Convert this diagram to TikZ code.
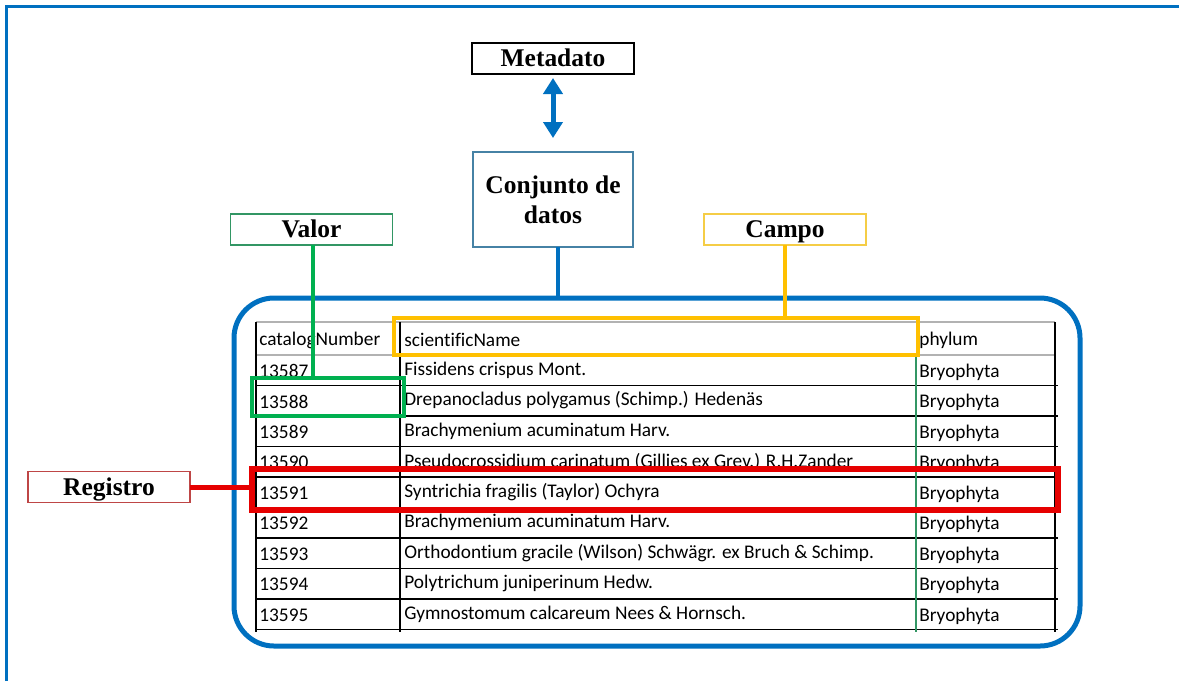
\documentclass[tikz,border=0pt]{standalone}
\usepackage{fontspec}
\setmainfont{Liberation Serif}
\newfontfamily\hojafont[Ligatures=NoCommon]{Carlito}
\usetikzlibrary{positioning,arrows.meta}
\definecolor{azul}{RGB}{0,112,192}
\definecolor{azulgris}{RGB}{70,130,165}
\definecolor{verde}{RGB}{0,176,80}
\definecolor{verdegris}{RGB}{50,150,100}
\definecolor{oro}{RGB}{255,192,0}
\definecolor{oroclaro}{RGB}{245,205,70}
\definecolor{rojo}{RGB}{230,0,0}
\definecolor{rojogris}{RGB}{190,70,70}
\def\px{0.02cm}
\tikzset{
  etiqueta/.style={draw, line width=1.5*\px, fill=white, inner sep=0pt, outer sep=0pt,
    font=\fontsize{14.5}{17}\selectfont\bfseries, align=center,
    minimum width=162*\px, minimum height=31*\px},
  simple/.style={text height=11pt, text depth=1.5pt},
  marca/.style={draw, inner sep=0pt, outer sep=0pt},
  celda/.style={font=\hojafont\fontsize{11}{13}\selectfont, anchor=west, inner sep=0pt},
  conector/.style={line width=4*\px},
}
\begin{document}
\begin{tikzpicture}[x=\px,y=-\px]
\useasboundingbox (0,0) rectangle (1179,681);
\draw[azul, line width=3*\px] (6,681) -- (6,6) -- (1179,6);

% hoja de calculo
\draw[gray!60, line width=1.2*\px] (256,322) -- (1055,322) (256,355) -- (1055,355);
\foreach \k in {1,...,9}
  \draw[black, line width=1.3*\px] (256,{355+30.5*\k}) -- (1058,{355+30.5*\k});
\draw[black, line width=1.3*\px] (256,322) -- (256,632);
\draw[black, line width=1.3*\px] (400,322) -- (400,632);
\draw[black, line width=1.3*\px] (1055,322) -- (1055,632);
\draw[verdegris, line width=1.5*\px] (916,355) -- (916,632);

\node[celda] (hcat) at (259,340) {catalogNumber};
\node[celda] (hsci) at (404,340) {scientificName};
\node[celda] (hphy) at (919,340) {phylum};

\foreach \num/\nombre [count=\i from 0] in {
  13587/{Fissidens crispus Mont.},
  13588/{Drepanocladus polygamus (Schimp.) Hedenäs},
  13589/{Brachymenium acuminatum Harv.},
  13590/{Pseudocrossidium carinatum (Gillies ex Grev.) R.H.Zander},
  13591/{Syntrichia fragilis (Taylor) Ochyra},
  13592/{Brachymenium acuminatum Harv.},
  13593/{Orthodontium gracile (Wilson) Schwägr. ex Bruch \& Schimp.},
  13594/{Polytrichum juniperinum Hedw.},
  13595/{Gymnostomum calcareum Nees \& Hornsch.}}
{
  \node[celda] (num\i) at (259,{371+30.5*\i}) {\num};
  \node[celda] (sci\i) at (404,{370+30.5*\i}) {\nombre};
  \node[celda] (phy\i) at (919,{372+30.5*\i}) {Bryophyta};
}

% marco redondeado
\node[marca, azul, line width=5*\px, rounded corners=40*\px,
  minimum width=846*\px, minimum height=348*\px] (tabla) at (657,472) {};

% resaltados
\node[marca, oro, line width=4.5*\px, minimum width=524*\px, minimum height=37*\px] (columna) at (656,336.5) {};
\node[marca, verde, line width=4.5*\px, minimum width=152*\px, minimum height=38*\px] (dato) at (328,397) {};
\node[marca, rojo, line width=5.5*\px, minimum width=806*\px, minimum height=41*\px] (fila) at (655,489.5) {};

% etiquetas
\node[etiqueta, simple, draw=black] (metadato) at (553,58.5) {Metadato};
\node[etiqueta, draw=azulgris, minimum width=160*\px, minimum height=95*\px] (conjunto) at (553,199.5) {Conjunto de\\datos};
\node[etiqueta, simple, draw=verdegris] (valor) at (311.5,229.5) {Valor};
\node[etiqueta, simple, draw=oroclaro] (campo) at (785,229.5) {Campo};
\node[etiqueta, simple, draw=rojogris] (registro) at (109,487) {Registro};

% conectores
\draw[azul, line width=5*\px, {Triangle[width=19*\px,length=16*\px]}-{Triangle[width=19*\px,length=16*\px]}]
  ([yshift=-4*\px]metadato.south) -- ([yshift=14*\px]conjunto.north);
\draw[azul, conector] ([xshift=5*\px]conjunto.south) -- ([xshift=5*\px]conjunto.south |- tabla.north);
\draw[verde, conector] ([xshift=1.5*\px]valor.south) -- ([xshift=1.5*\px]valor.south |- dato.north);
\draw[oro, conector] (campo.south) -- (campo.south |- columna.north);
\draw[rojo, line width=5*\px] (registro.east) -- (registro.east -| fila.west);
\end{tikzpicture}
\end{document}
